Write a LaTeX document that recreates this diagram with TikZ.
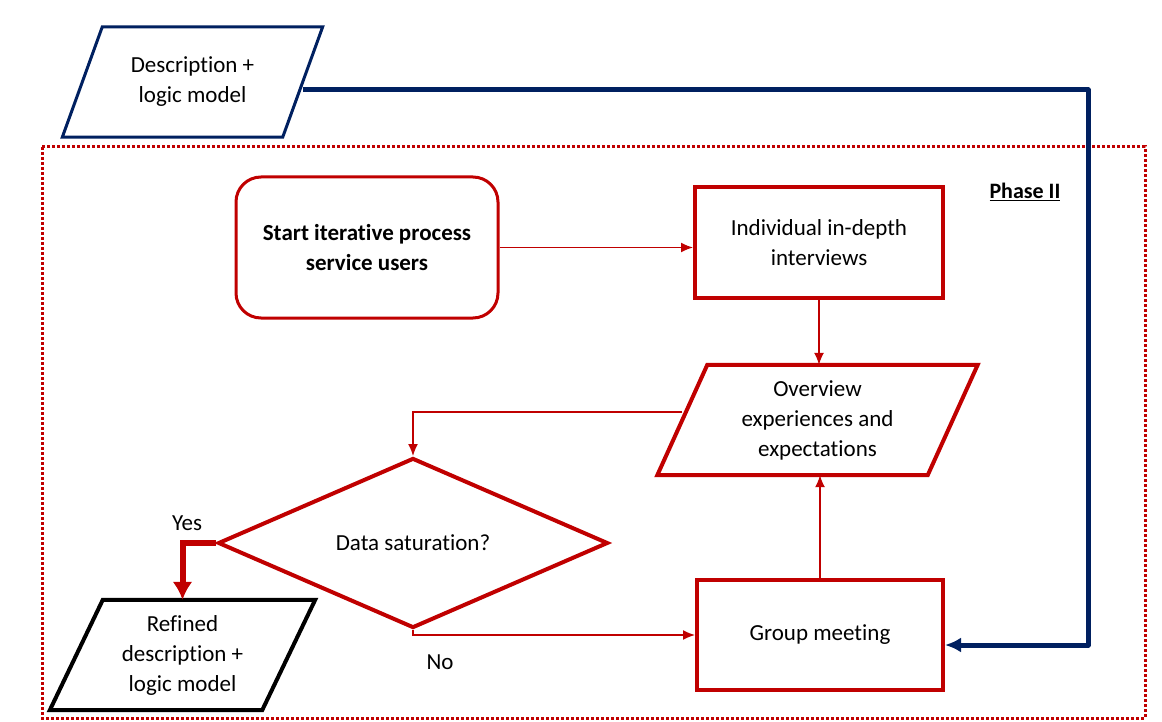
\documentclass[tikz,border=0pt]{standalone}
\usepackage{fontspec}
\setmainfont{Carlito}[Ligatures=NoCommon]
\usetikzlibrary{shapes.geometric,arrows.meta}
\definecolor{darkred}{RGB}{192,0,0}
\definecolor{navy}{RGB}{0,32,96}
\tikzset{
  box/.style={draw=darkred, line width=4pt, minimum width=246pt, minimum height=110pt, align=center},
  para/.style={minimum height=110pt, align=center},
  flow/.style={draw=darkred, line width=1.5pt, -{Latex[length=12pt,width=10pt]}}
}
% outline of a data (slanted) box round node #1, half slant #2
\newcommand{\slantframe}[3]{%
  \draw[#3, line join=miter] ([xshift=-#2]#1.south west) -- ([xshift=#2]#1.north west)
    -- ([xshift=#2]#1.north east) -- ([xshift=-#2]#1.south east) -- cycle;}
\begin{document}
\begin{tikzpicture}[x=1pt,y=-1pt,font=\fontsize{23}{30}\selectfont]
\useasboundingbox (0,0) rectangle (1162,722);
% phase frame
\draw[darkred, line width=3pt, dash pattern=on 3pt off 2pt] (42,147) rectangle (1145,718);
\node[font=\fontsize{22}{26}\selectfont\bfseries] (phase) at (1025,192) {\underline{Phase II}};
% nodes
\node[para, minimum width=220pt] (desc) at (192.5,82) {Description +\\logic model};
\slantframe{desc}{20pt}{navy, line width=3pt}
\node[draw=darkred, line width=3pt, rounded corners=25pt, minimum width=262pt, minimum height=141pt, align=center, font=\fontsize{23}{30}\selectfont\bfseries] (start) at (367,247.5) {Start iterative process\\service users};
\node[box, minimum width=248pt, minimum height=111pt] (indiv) at (819,242.5) {Individual in-depth\\interviews};
\node[para, minimum width=270pt] (ov) at (817.5,420) {Overview\\experiences and\\expectations};
\slantframe{ov}{25pt}{darkred, line width=4pt}
\node[diamond, draw=darkred, line width=4pt, aspect=2.3, minimum width=390pt, minimum height=170pt] (sat) at (413,543) {Data saturation?};
\node[box] (group) at (820,635) {Group meeting};
\node[para, minimum width=212pt] (ref) at (182.5,655) {Refined\\description +\\logic model};
\slantframe{ref}{26.5pt}{black, line width=4pt}
% connectors
\coordinate (turn) at (1088,90);
\draw[navy, line width=5pt, line join=round, -{Latex[length=16pt,width=15pt]}] ([yshift=-8pt]desc.east) -- (turn) |- ([yshift=-10pt]group.east);
\draw[flow] (start.east) -- (start.east -| indiv.west);
\draw[flow] (indiv.south) -- (indiv.south |- ov.north);
\draw[flow] ([yshift=8pt]ov.west) -| (sat.north);
\draw[flow] (sat.south) |- (group.west);
\draw[flow] (group.north) -- (group.north |- ov.south);
\draw[darkred, line width=6pt, -{Latex[length=18pt,width=20pt]}] (sat.west) -| (ref.north);
\node (yes) at (187,523) {Yes};
\node (no) at (440,662) {No};
\end{tikzpicture}
\end{document}
